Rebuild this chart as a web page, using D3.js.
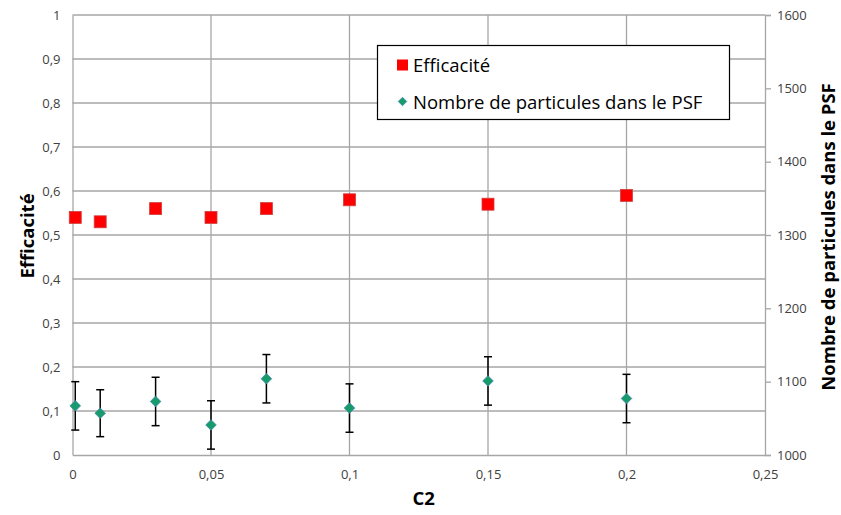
<!DOCTYPE html>
<html><head><meta charset="utf-8">
<script src="https://cdn.jsdelivr.net/npm/d3@7"></script>
<style>body{margin:0;background:#fff;} text{font-family:"Open Sans","Liberation Sans",sans-serif;}</style>
</head><body><svg id="c" width="841" height="515"></svg>
<script>
const c2 = [0.001, 0.01, 0.03, 0.05, 0.07, 0.1, 0.15, 0.2];
const efficacite = [0.54, 0.53, 0.56, 0.54, 0.56, 0.58, 0.57, 0.59];
const particules = [1067, 1057, 1073, 1041, 1104, 1064, 1101, 1077];
const erreur = [33, 32, 33, 33, 33, 33, 33, 33];
const xTicks = [0, 0.05, 0.1, 0.15, 0.2, 0.25];
const yLeftTicks = [0, 0.1, 0.2, 0.3, 0.4, 0.5, 0.6, 0.7, 0.8, 0.9, 1];
const yRightTicks = [1000, 1100, 1200, 1300, 1400, 1500, 1600];

const svg = d3.select("#c");
const L = 72.5, R = 765, T = 15, B = 455;
const x = d3.scaleLinear().domain([0, 0.25]).range([L, R]);
const yL = d3.scaleLinear().domain([0, 1]).range([B, T]);
const yR = d3.scaleLinear().domain([1000, 1600]).range([B, T]);
const fmt = d => String(d).replace(".", ",");
const grid = "#a6a6a6";

// grid
svg.append("g").selectAll("line").data(yLeftTicks.slice(1)).join("line")
  .attr("x1", L).attr("x2", R).attr("y1", d => yL(d)).attr("y2", d => yL(d))
  .attr("stroke", grid).attr("stroke-width", 1.3);
svg.append("g").selectAll("line").data(xTicks.slice(1, -1)).join("line")
  .attr("y1", T).attr("y2", B).attr("x1", d => x(d)).attr("x2", d => x(d))
  .attr("stroke", grid).attr("stroke-width", 1.3);

// axes
const axB = svg.append("g").attr("transform", `translate(0,${B})`)
  .call(d3.axisBottom(x).tickValues(xTicks).tickSize(0).tickPadding(15).tickFormat(fmt));
const axL = svg.append("g").attr("transform", `translate(${L},0)`)
  .call(d3.axisLeft(yL).tickValues(yLeftTicks).tickSize(0).tickPadding(12).tickFormat(fmt));
const axR = svg.append("g").attr("transform", `translate(${R},0)`)
  .call(d3.axisRight(yR).tickValues(yRightTicks).tickSize(6).tickPadding(6).tickFormat(d => String(d)));
[axB, axL, axR].forEach(a => {
  a.select(".domain").attr("stroke", grid).attr("stroke-width", 1.3);
  a.selectAll(".tick line").attr("stroke", grid).attr("stroke-width", 1.3);
  a.selectAll(".tick text").attr("fill", "#404040").style("font-size", "13px");
});

// titles
svg.append("text").attr("x", (L + R) / 2 + 5).attr("y", 505).attr("text-anchor", "middle")
  .style("font-weight", "bold").style("font-size", "18.5px").text("C2");
svg.append("text").attr("transform", "translate(34,236) rotate(-90)").attr("text-anchor", "middle")
  .style("font-weight", "bold").style("font-size", "18.5px").text("Efficacité");
svg.append("text").attr("transform", "translate(835,237) rotate(-90)").attr("text-anchor", "middle")
  .style("font-weight", "bold").style("font-size", "18.5px").text("Nombre de particules dans le PSF");

// error bars
const eb = svg.append("g").attr("stroke", "#000").attr("stroke-width", 1.5);
c2.forEach((v, i) => {
  const px = x(v), y1 = yR(particules[i] + erreur[i]), y2 = yR(particules[i] - erreur[i]);
  eb.append("line").attr("x1", px).attr("x2", px).attr("y1", y1).attr("y2", y2);
  eb.append("line").attr("x1", px - 4).attr("x2", px + 4).attr("y1", y1).attr("y2", y1);
  eb.append("line").attr("x1", px - 4).attr("x2", px + 4).attr("y1", y2).attr("y2", y2);
});

// squares
const s = 12;
svg.append("g").selectAll("rect").data(c2).join("rect")
  .attr("x", d => x(d) - s / 2).attr("y", (d, i) => yL(efficacite[i]) - s / 2)
  .attr("width", s).attr("height", s).attr("fill", "#ff0000").attr("stroke", "#d04040").attr("stroke-width", 0.8);

// diamonds
const dsym = d3.symbol().type(d3.symbolSquare).size(56);
svg.append("g").selectAll("path").data(c2).join("path")
  .attr("d", dsym)
  .attr("transform", (d, i) => `translate(${x(d)},${yR(particules[i])}) rotate(45)`)
  .attr("fill", "#169c6a").attr("stroke", "#4a86b0").attr("stroke-width", 0.8);

// legend
const lg = svg.append("g");
lg.append("rect").attr("x", 377.5).attr("y", 45.5).attr("width", 352).attr("height", 74)
  .attr("fill", "#fff").attr("stroke", "#000").attr("stroke-width", 1.2);
lg.append("rect").attr("x", 397).attr("y", 59.5).attr("width", 11).attr("height", 11).attr("fill", "#ff0000");
lg.append("path").attr("d", d3.symbol().type(d3.symbolSquare).size(36))
  .attr("transform", "translate(402.5,101.5) rotate(45)").attr("fill", "#169c6a").attr("stroke", "#4a86b0").attr("stroke-width", 0.8);
lg.append("text").attr("x", 413).attr("y", 71.5).style("font-size", "18.5px").attr("fill", "#000").text("Efficacité");
lg.append("text").attr("x", 413).attr("y", 108.5).style("font-size", "18.5px").attr("fill", "#000").text("Nombre de particules dans le PSF");
</script></body></html>
